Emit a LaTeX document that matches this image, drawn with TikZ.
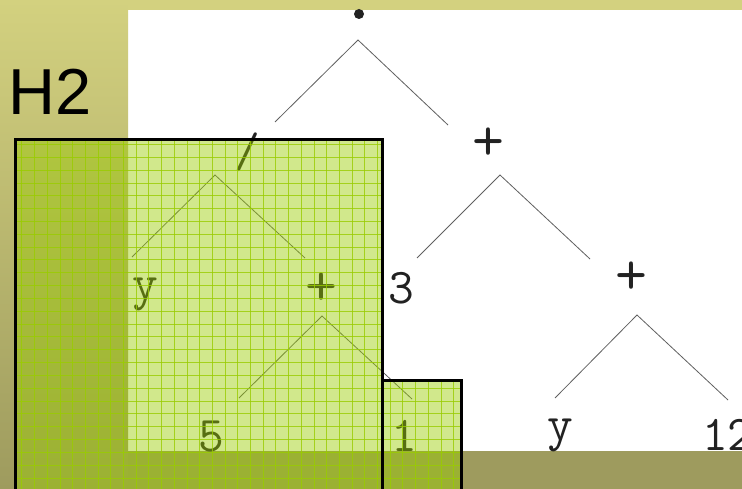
\documentclass[tikz,border=0pt]{standalone}
\usepackage{fontspec}
\setmainfont{Liberation Sans}
\definecolor{bandtop}{HTML}{D3D17F}
\definecolor{bandbot}{HTML}{9E9B5E}
\definecolor{hl}{HTML}{99CC00}
\definecolor{edgegrey}{HTML}{606060}
\definecolor{ink}{HTML}{222222}
\begin{document}
\begin{tikzpicture}[x=1pt,y=-1pt,
  sym/.style={inner sep=0pt, font=\ttfamily\fontsize{50}{50}\selectfont, text=ink},
  opsym/.style={inner sep=0pt, font=\ttfamily\fontsize{62}{62}\selectfont, text=ink},
  edgeline/.style={draw=edgegrey, line width=0.8pt},
  hlfill/.style={fill=hl, fill opacity=0.45},
  hlborder/.style={draw=black, line width=3pt},
  hlgrid/.style={draw=hl, line width=1pt, opacity=0.8},
]
\useasboundingbox (0,0) rectangle (742,489);
\clip (0,0) rectangle (742,489);
% backgrounds
\fill[white] (0,0) rectangle (742,489);
\shade[top color=bandtop, bottom color=bandbot] (0,0) rectangle (128,489);
\fill[bandtop] (128,0) rectangle (742,10);
\fill[bandbot] (128,451) rectangle (742,489);
% title
\node[anchor=base west, inner sep=0pt, font=\fontsize{65}{65}\selectfont] (h2) at (8,115) {H2};
% tree nodes
\node[circle, fill=ink, inner sep=0pt, minimum size=10pt] (root) at (359,14) {};
\node[sym] (div) at (247,152) {/};
\node[opsym] (plusA) at (488,144) {+};
\node[sym] (yA) at (145,294) {y};
\node[opsym] (plusB) at (321,289) {+};
\node[sym] (three) at (401,288) {3};
\node[opsym] (plusC) at (631,278) {+};
\node[sym] (five) at (211,437) {5};
\node[sym] (one) at (404,436) {1};
\node[sym] (yB) at (560,435) {y};
\node[sym, anchor=west] (twelve) at (702,435) {12};
% connector points
\coordinate (root-a) at (358,40);  \coordinate (root-l) at (275,122); \coordinate (root-r) at (448,125);
\coordinate (div-a) at (215,175);  \coordinate (div-l) at (132,257);  \coordinate (div-r) at (305,258);
\coordinate (plusA-a) at (500,175); \coordinate (plusA-l) at (417,258); \coordinate (plusA-r) at (590,259);
\coordinate (plusB-a) at (322,316); \coordinate (plusB-l) at (239,398); \coordinate (plusB-r) at (412,399);
\coordinate (plusC-a) at (637,315); \coordinate (plusC-l) at (555,398); \coordinate (plusC-r) at (728,400);
\draw[edgeline] (root-l) -- (root-a) -- (root-r);
\draw[edgeline] (div-l) -- (div-a) -- (div-r);
\draw[edgeline] (plusA-l) -- (plusA-a) -- (plusA-r);
\draw[edgeline] (plusB-l) -- (plusB-a) -- (plusB-r);
\draw[edgeline] (plusC-l) -- (plusC-a) -- (plusC-r);
% highlight boxes
\fill[hlfill] (15,140) rectangle (382,500);
\fill[hlfill] (382,380) rectangle (461,500);
\begin{scope}
  \clip (15,140) rectangle (382,500) (382,380) rectangle (461,500);
  \foreach \k in {0,...,36}
    \draw[hlgrid] ({9.2+\k*12.7},130) -- ({9.2+\k*12.7},500);
  \foreach \k in {0,...,29}
    \draw[hlgrid] (0,{131.7+\k*12.83}) -- (470,{131.7+\k*12.83});
\end{scope}
\draw[hlborder] (15,500) -- (15,140) -- (382,140) -- (382,500);
\draw[hlborder] (382,380) -- (461,380) -- (461,500);
\end{tikzpicture}
\end{document}
